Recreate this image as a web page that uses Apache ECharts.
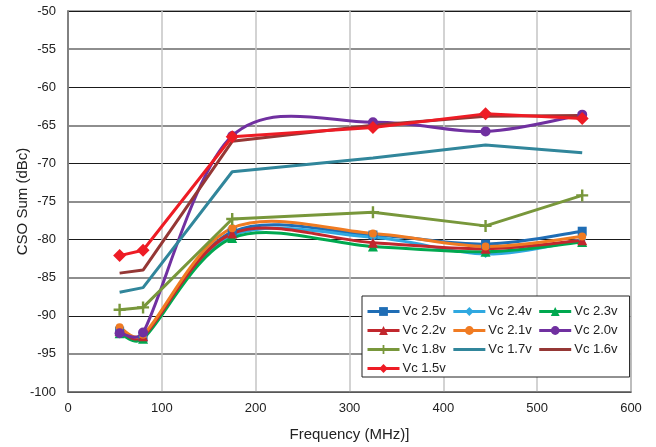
<!DOCTYPE html>
<html><head><meta charset="utf-8">
<script src="https://cdn.jsdelivr.net/npm/echarts@6/dist/echarts.min.js"></script>
<style>html,body{margin:0;padding:0;background:#fff}#c{width:656px;height:447px}</style>
</head><body><div id="c"></div>
<script>
const freqs = [55, 80, 175, 325, 445, 548];
const seriesNames = ["Vc 2.5v","Vc 2.4v","Vc 2.3v","Vc 2.2v","Vc 2.1v","Vc 2.0v","Vc 1.8v","Vc 1.7v","Vc 1.6v","Vc 1.5v"];
const vc25 = [-92.0, -92.8, -79.0, -79.4, -80.6, -78.9];
const vc24 = [-92.2, -92.8, -79.5, -79.7, -81.9, -80.0];
const vc23 = [-92.3, -93.0, -79.8, -80.9, -81.6, -80.3];
const vc22 = [-92.0, -92.7, -79.2, -80.4, -81.2, -80.1];
const vc21 = [-91.5, -92.5, -78.5, -79.2, -80.9, -79.6];
const vc20 = [-92.3, -92.2, -66.4, -64.6, -65.8, -63.6];
const vc18 = [-89.2, -88.9, -77.3, -76.4, -78.2, -74.2];
const vc17 = [-86.9, -86.3, -71.1, -69.3, -67.6, -68.6];
const vc16 = [-84.4, -84.0, -67.1, -65.0, -63.8, -63.7];
const vc15 = [-82.1, -81.4, -66.5, -65.3, -63.5, -64.1];
const yTicks = [-100,-95,-90,-85,-80,-75,-70,-65,-60,-55,-50];
const xTicks = [0,100,200,300,400,500,600];

const plus = 'path://M4,0 L6,0 L6,4 L10,4 L10,6 L6,6 L6,10 L4,10 L4,6 L0,6 L0,4 L4,4 Z';
const styles = [
  {color:'#1f6db5', symbol:'rect', size:9, smooth:true},
  {color:'#2fa8e0', symbol:'diamond', size:8, smooth:true},
  {color:'#00a84f', symbol:'triangle', size:10, smooth:true},
  {color:'#c1272d', symbol:'triangle', size:10, smooth:true},
  {color:'#f07b22', symbol:'circle', size:8, smooth:true},
  {color:'#7030a0', symbol:'circle', size:10, smooth:true},
  {color:'#78973b', symbol:plus, size:12, smooth:false},
  {color:'#31869b', symbol:'none', size:0, smooth:false},
  {color:'#953735', symbol:'none', size:0, smooth:false},
  {color:'#ee1c25', symbol:'diamond', size:13, smooth:false}
];
const data = [vc25,vc24,vc23,vc22,vc21,vc20,vc18,vc17,vc16,vc15];

function tangent(p0, p1, p2, segLen) {
  let tx = (p2[0] - p0[0]) / 6, ty = (p2[1] - p0[1]) / 6;
  const len = Math.hypot(tx, ty), cap = segLen * 0.5;
  if (len > cap && len > 0) { tx *= cap / len; ty *= cap / len; }
  return [tx, ty];
}
// Excel-style smoothed curve drawn through the library's coordinate system
function smoothCurve(values, color) {
  return function (params, api) {
    const pts = freqs.map((f, k) => api.coord([f, values[k]]));
    const n = pts.length;
    let d = 'M' + pts[0][0] + ',' + pts[0][1];
    for (let i = 0; i < n - 1; i++) {
      const p0 = pts[Math.max(i - 1, 0)], p1 = pts[i], p2 = pts[i + 1], p3 = pts[Math.min(i + 2, n - 1)];
      const seg = Math.hypot(p2[0] - p1[0], p2[1] - p1[1]);
      const t1 = tangent(p0, p1, p2, seg), t2 = tangent(p1, p2, p3, seg);
      d += ' C' + (p1[0] + t1[0]) + ',' + (p1[1] + t1[1]) + ' ' + (p2[0] - t2[0]) + ',' + (p2[1] - t2[1]) + ' ' + p2[0] + ',' + p2[1];
    }
    return {type: 'path', shape: {pathData: d}, style: {stroke: color, lineWidth: 3, fill: 'none', lineJoin: 'round'}};
  };
}

const series = [];
seriesNames.forEach((n, i) => {
  const st = styles[i];
  if (st.smooth) {
    series.push({
      name: n + ' curve', type: 'custom', coordinateSystem: 'cartesian2d',
      data: [[freqs[0], data[i][0]]], renderItem: smoothCurve(data[i], st.color),
      silent: true, z: 2, clip: false
    });
  }
  series.push({
    name: n, type: 'line', smooth: false,
    symbol: st.symbol, symbolSize: st.size, showSymbol: st.symbol !== 'none',
    lineStyle: {color: st.color, width: 3, opacity: st.smooth ? 0 : 1},
    itemStyle: {color: st.color},
    data: freqs.map((f, k) => [f, data[i][k]]),
    z: 3
  });
});

const chart = echarts.init(document.getElementById('c'), null, {renderer: 'canvas'});
chart.setOption({
  animation: false,
  backgroundColor: '#fff',
  textStyle: {fontFamily: 'Liberation Sans, Arial, sans-serif'},
  grid: {left: 68, right: 25, top: 11, bottom: 53, show: true, borderColor: '#8a8a8a', borderWidth: 1.5, backgroundColor: 'transparent'},
  legend: {
    left: 362, top: 296, width: 270, itemWidth: 32, itemHeight: 11, itemGap: 6,
    padding: [9, 12, 2, 4], backgroundColor: '#fff', borderColor: '#222', borderWidth: 1,
    textStyle: {fontSize: 13, color: '#222', fontFamily: 'Liberation Sans, Arial, sans-serif', padding: [0, 0, 0, -2]},
    data: seriesNames.map((n, i) => ({
      name: n,
      lineStyle: {opacity: 1, width: 3, color: styles[i].color},
      itemStyle: styles[i].symbol === 'none' ? {opacity: 0} : {}
    }))
  },
  xAxis: {
    type: 'value', min: xTicks[0], max: xTicks[xTicks.length - 1], interval: 100,
    name: 'Frequency (MHz)]', nameLocation: 'middle', nameGap: 35, nameMoveOverlap: false,
    nameTextStyle: {fontSize: 15, color: '#222'},
    axisLine: {show: true, lineStyle: {color: '#6e6e6e', width: 1.5}},
    axisTick: {show: false},
    axisLabel: {fontSize: 13, color: '#222', margin: 10},
    splitLine: {show: true, lineStyle: {color: '#c4c4c4', width: 1.5}}
  },
  yAxis: [{
    type: 'value', min: yTicks[0], max: yTicks[yTicks.length - 1], interval: 5,
    name: 'CSO Sum (dBc)', nameLocation: 'middle', nameGap: 38, nameRotate: 90, nameMoveOverlap: false,
    nameTextStyle: {fontSize: 15, color: '#222'},
    axisLine: {show: true, lineStyle: {color: '#6e6e6e', width: 1.5}},
    axisTick: {show: false},
    axisLabel: {fontSize: 13, color: '#222', margin: 12},
    splitLine: {show: true, lineStyle: {color: ['rgba(0,0,0,0)', '#8e8e8e'], width: 2}}
  }, {
    type: 'value', min: yTicks[0], max: yTicks[yTicks.length - 1], interval: 10, position: 'left',
    axisLine: {show: false}, axisTick: {show: false}, axisLabel: {show: false},
    splitLine: {show: true, lineStyle: {color: '#1a1a1a', width: 1}}
  }],
  series: series
});
</script></body></html>
